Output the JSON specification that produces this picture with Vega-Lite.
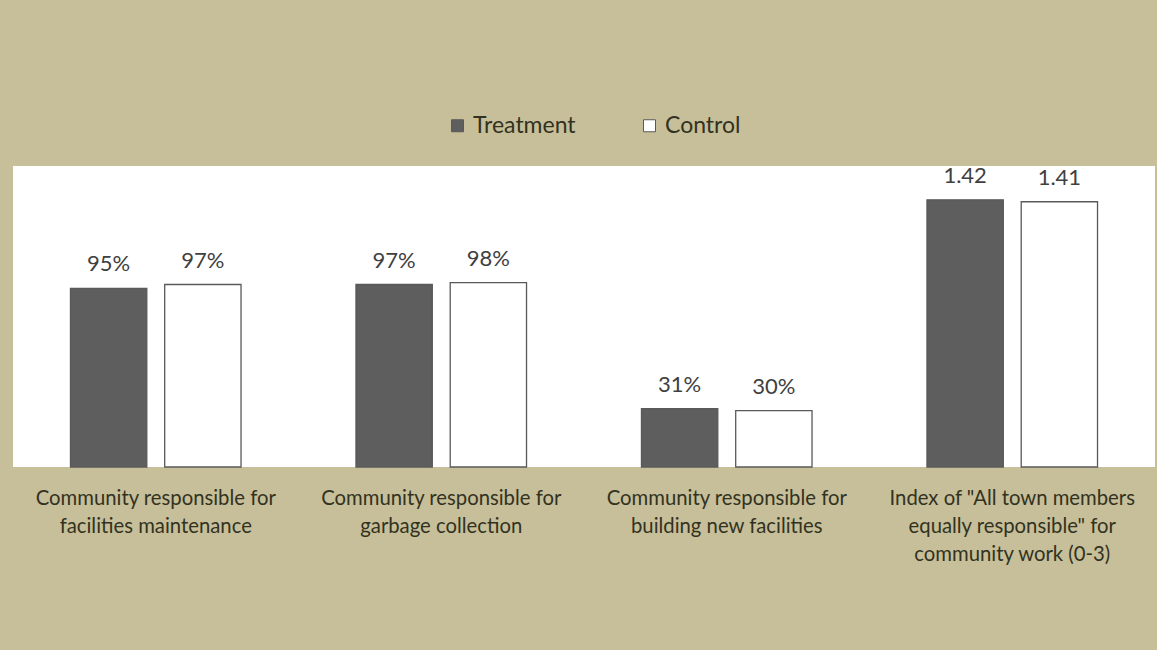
{
  "$schema": "https://vega.github.io/schema/vega-lite/v6.json",
  "width": 1142,
  "height": 301,
  "autosize": {"type": "none"},
  "padding": {"left": 13, "top": 166, "right": 2, "bottom": 183},
  "background": "#c6bf9a",
  "config": {
    "view": {"fill": "#ffffff", "stroke": null},
    "font": "Lato"
  },
  "data": {
    "values": [
      {"item": "Community responsible for|facilities maintenance", "group": "Treatment", "value": 0.95, "label": "95%"},
      {"item": "Community responsible for|facilities maintenance", "group": "Control", "value": 0.97, "label": "97%"},
      {"item": "Community responsible for|garbage collection", "group": "Treatment", "value": 0.97, "label": "97%"},
      {"item": "Community responsible for|garbage collection", "group": "Control", "value": 0.98, "label": "98%"},
      {"item": "Community responsible for|building new facilities", "group": "Treatment", "value": 0.31, "label": "31%"},
      {"item": "Community responsible for|building new facilities", "group": "Control", "value": 0.30, "label": "30%"},
      {"item": "Index of \"All town members|equally responsible\" for|community work (0-3)", "group": "Treatment", "value": 1.42, "label": "1.42"},
      {"item": "Index of \"All town members|equally responsible\" for|community work (0-3)", "group": "Control", "value": 1.41, "label": "1.41"}
    ]
  },
  "encoding": {
    "x": {
      "field": "item", "type": "nominal", "sort": null,
      "scale": {"paddingInner": 0, "paddingOuter": 0},
      "axis": {
        "title": null, "domain": false, "ticks": false, "labelAngle": 0,
        "labelExpr": "split(datum.label, '|')",
        "labelFontSize": 20.3, "labelColor": "#333220", "labelPadding": 21,
        "labelLimit": 400, "labelLineHeight": 28, "labelBaseline": "top"
      }
    },
    "xOffset": {
      "field": "group", "type": "nominal", "sort": ["Treatment", "Control"],
      "scale": {"paddingInner": 0.19, "paddingOuter": 0.61}
    },
    "y": {
      "field": "value", "type": "quantitative",
      "scale": {"domain": [0, 1.6]},
      "axis": null
    }
  },
  "layer": [
    {
      "mark": {"type": "bar", "stroke": "#595959", "strokeWidth": 1.3},
      "encoding": {
        "color": {
          "field": "group", "type": "nominal",
          "sort": ["Treatment", "Control"],
          "scale": {"domain": ["Treatment", "Control"], "range": ["#5e5e5e", "#ffffff"]},
          "legend": {
            "title": null, "orient": "none", "direction": "horizontal",
            "legendX": 433, "legendY": -52,
            "symbolType": "square", "symbolSize": 144,
            "symbolStrokeColor": "#595959", "symbolStrokeWidth": 1,
            "labelFontSize": 23, "labelColor": "#333220",
            "labelOffset": 4, "columnPadding": 62
          }
        }
      }
    },
    {
      "mark": {"type": "text", "baseline": "alphabetic", "dy": -17, "fontSize": 22, "color": "#404040"},
      "encoding": {
        "text": {"field": "label"}
      }
    }
  ]
}
